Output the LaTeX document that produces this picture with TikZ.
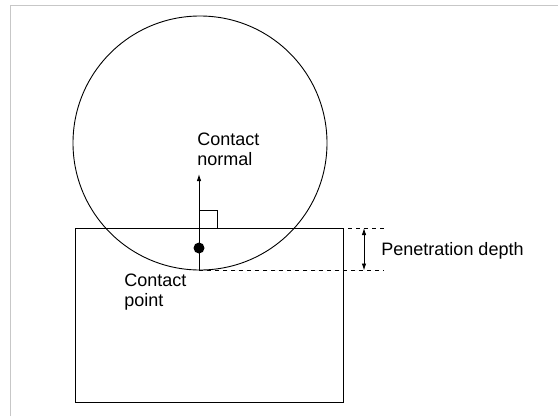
\documentclass[tikz,border=0pt]{standalone}
\usepackage{fontspec}
\setmainfont{Liberation Sans}
\usetikzlibrary{arrows.meta}
\tikzset{%
    lbl/.style={inner sep=0pt,align=left,font=\fontsize{18}{20}\selectfont},
    dot/.style={inner sep=0pt,minimum size=11pt,circle,fill=black},
    guide/.style={dash pattern=on 4pt off 4pt},
    tip/.style={-{Latex[length=7pt,width=4.5pt]}},
    tips/.style={{Latex[length=7pt,width=4.5pt]}-{Latex[length=7pt,width=4.5pt]}}
}

\begin{document}
\begin{tikzpicture}[x=1pt,y=-1pt,line width=0.9pt]
        \useasboundingbox (0,0) rectangle (559,416);
        \draw[line width=1pt,black!22] (10,416) -- (10,5) -- (558,5);

        \coordinate (o) at (200,143);
        \coordinate (r1) at (75,228);
        \coordinate (r2) at (343,402);
        \coordinate (cp) at (199,270.5);
        \coordinate (nt) at (199,174);
        \coordinate (d1) at (364,228);
        \coordinate (d2) at (364,270.5);

        \draw (o) circle [radius=127];
        \draw (r1) rectangle (r2);

        % normal with right-angle mark
        \draw[tip] (cp) -- (nt);
        \draw (199,210) -| (217.5,228);
        \node[dot] (pt) at (199,248){};

        % depth markers
        \draw[guide] (348,228) -- (384,228);
        \draw[guide] (cp) -- (384,270.5);
        \draw[tips] (d1) -- (d2);

        \node[lbl,anchor=north west] (normal) at (197,132){Contact\\normal};
        \node[lbl,anchor=north west] (point) at (124,273){Contact\\point};
        \node[lbl,anchor=base west] (depth) at (381,255){Penetration depth};
    \end{tikzpicture}
\end{document}
